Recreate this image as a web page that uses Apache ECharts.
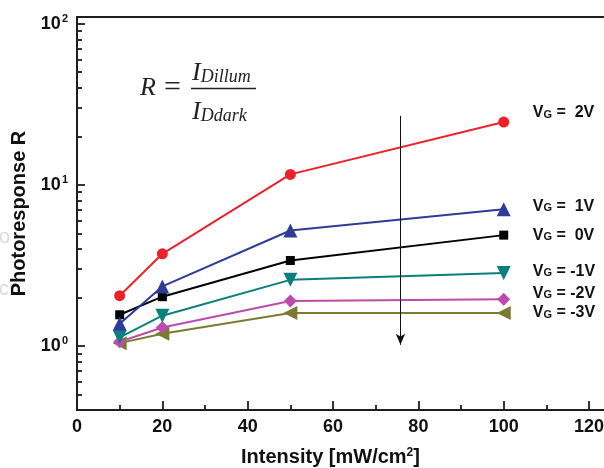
<!DOCTYPE html>
<html>
<head>
<meta charset="utf-8">
<script src="https://cdn.jsdelivr.net/npm/echarts@6/dist/echarts.min.js"></script>
<style>
  html, body { margin: 0; padding: 0; background: #fff; }
  #chart { width: 604px; height: 468px; }
</style>
</head>
<body>
<div id="chart"></div>
<script>
// 数据：光强与各栅压下的光响应
const intensity = [10, 20, 50, 100];
const r2V = [2.05, 3.73, 11.6, 24.5];
const r1V = [1.37, 2.34, 5.2, 7.05];
const r0V = [1.56, 2.02, 3.39, 4.87];
const rm1V = [1.13, 1.54, 2.57, 2.83];
const rm2V = [1.06, 1.30, 1.90, 1.95];
const rm3V = [1.04, 1.19, 1.60, 1.60];
const seriesNames = ["2V", "1V", "0V", "-1V", "-2V", "-3V"];
const xTicks = [0, 20, 40, 60, 80, 100, 120];
const xMinor = [10, 30, 50, 70, 90, 110];
const yMajor = [1, 10, 100];
const yMinor = [0.5, 0.6, 0.7, 0.8, 0.9, 2, 3, 4, 5, 6, 7, 8, 9, 20, 30, 40, 50, 60, 70, 80, 90];

const FONT = '"Liberation Sans", Arial, sans-serif';
const SERIF = '"Liberation Serif", "Times New Roman", serif';
const AX = "#1e1e1e";
const Y_MIN = 0.4, Y_MAX = 110, X_MAX = 123.5;

var myChart = echarts.init(document.getElementById("chart"));

function pts(vals) {
  return intensity.map(function (x, i) { return [x, vals[i]]; });
}

const labelRich = {
  v: { fontFamily: FONT, fontWeight: "bold", fontSize: 16, color: "#111" },
  g: { fontFamily: FONT, fontWeight: "bold", fontSize: 11, color: "#111", verticalAlign: "bottom", padding: [0, 0, 1, 0] },
  t: { fontFamily: FONT, fontWeight: "bold", fontSize: 16, color: "#111" },
};

function makeSeries(name, vals, color, symbol, size, rotate, dy) {
  return {
    name: name,
    type: "line",
    data: pts(vals),
    symbol: symbol,
    symbolSize: size,
    symbolRotate: rotate,
    showSymbol: true,
    lineStyle: { color: color, width: 2 },
    itemStyle: { color: color },
    endLabel: {
      show: true,
      distance: 0,
      offset: [29, dy],
      formatter: "{v|V}{g|G}{t| = " + (name.charAt(0) === "-" ? "" : " ") + name + "}",
      rich: labelRich,
    },
    z: 3,
  };
}

var series = [
  makeSeries(seriesNames[5], rm3V, "#7b7b30", "triangle", 14, 90, 0),
  makeSeries(seriesNames[4], rm2V, "#bb4cad", "diamond", 13, 0, -6),
  makeSeries(seriesNames[3], rm1V, "#0b7f7d", "triangle", 14, 180, -1.5),
  makeSeries(seriesNames[2], r0V, "#000000", "rect", 9, 0, 0.7),
  makeSeries(seriesNames[1], r1V, "#2e3b98", "triangle", 14, 0, -2.5),
  makeSeries(seriesNames[0], r2V, "#ee2028", "circle", 11, 0, -9),
];

// 箭头
series[5].markLine = {
  silent: true,
  symbol: ["none", "arrow"],
  symbolSize: [7, 11],
  label: { show: false },
  lineStyle: { color: "#111", width: 1, type: "solid" },
  data: [[{ coord: [75.8, 26.8] }, { coord: [75.8, 1.015] }]],
};

var option = {
  animation: false,
  grid: { left: 77, top: 17, right: 0, bottom: 58, containLabel: false, outerBoundsMode: "none" },
  xAxis: [
    {
      type: "value",
      min: 0,
      max: X_MAX,
      position: "bottom",
      name: "Intensity [mW/cm{sup|2}]",
      nameLocation: "middle",
      nameGap: 37,
      nameTextStyle: {
        fontFamily: FONT, fontWeight: "bold", fontSize: 20, color: "#111",
        padding: [0, 20, 0, 0],
        rich: {
          sup: { fontFamily: FONT, fontWeight: "bold", fontSize: 12, color: "#111", verticalAlign: "top", padding: [0, 0, 8, 0] },
        },
      },
      axisLine: { show: true, onZero: false, lineStyle: { color: AX, width: 2 } },
      axisTick: { show: true, inside: true, length: 9, customValues: xTicks, lineStyle: { color: AX, width: 1.8 } },
      axisLabel: {
        customValues: xTicks,
        margin: 8,
        fontFamily: FONT, fontWeight: "bold", fontSize: 18, color: "#111",
      },
      splitLine: { show: false },
    },
    {
      type: "value",
      min: 0,
      max: X_MAX,
      position: "top",
      axisLine: { show: true, onZero: false, lineStyle: { color: AX, width: 2 } },
      axisTick: { show: false },
      axisLabel: { show: false },
      splitLine: { show: false },
    },
    {
      type: "value",
      min: 0,
      max: X_MAX,
      position: "bottom",
      axisLine: { show: false, onZero: false },
      axisTick: { show: true, inside: true, length: 5, customValues: xMinor, lineStyle: { color: AX, width: 1.8 } },
      axisLabel: { show: false },
      splitLine: { show: false },
    },
  ],
  yAxis: [
    {
      type: "log",
      logBase: 10,
      min: Y_MIN,
      max: Y_MAX,
      position: "left",
      name: "Photoresponse R",
      nameLocation: "middle",
      nameGap: 45,
      nameTextStyle: { fontFamily: FONT, fontWeight: "bold", fontSize: 20, color: "#111" },
      axisLine: { show: true, onZero: false, lineStyle: { color: AX, width: 2 } },
      axisTick: { show: true, inside: true, length: 8, customValues: yMajor, lineStyle: { color: AX, width: 1.8 } },
      axisLabel: {
        customValues: yMajor,
        margin: 9,
        formatter: function (v) {
          return "{b|10}{s|" + Math.round(Math.log10(v)) + "}";
        },
        rich: {
          b: { fontFamily: FONT, fontWeight: "bold", fontSize: 18, color: "#111", verticalAlign: "middle" },
          s: { fontFamily: FONT, fontWeight: "bold", fontSize: 11, color: "#111", padding: [0, 0, 10, 1] },
        },
      },
      splitLine: { show: false },
    },
    {
      type: "log",
      logBase: 10,
      min: Y_MIN,
      max: Y_MAX,
      position: "left",
      axisLine: { show: false, onZero: false },
      axisTick: { show: true, inside: true, length: 5, customValues: yMinor, lineStyle: { color: AX, width: 1.8 } },
      axisLabel: { show: false },
      splitLine: { show: false },
    },
  ],
  graphic: [
    { type: "text", x: 140, y: 88, style: { text: "R", font: "italic 26px " + SERIF, fill: "#222", align: "left", verticalAlign: "middle", textAlign: "left", textVerticalAlign: "middle" } },
    { type: "text", x: 164, y: 88, style: { text: "=", font: "30px " + SERIF, fill: "#222", align: "left", verticalAlign: "middle", textAlign: "left", textVerticalAlign: "middle" } },
    { type: "line", shape: { x1: 191, y1: 88.5, x2: 256, y2: 88.5 }, style: { stroke: "#222", lineWidth: 1.3 } },
    {
      type: "text", x: 192, y: 73,
      style: {
        text: "{i|I}{s|Dillum}", align: "left", verticalAlign: "middle", textAlign: "left", textVerticalAlign: "middle",
        rich: {
          i: { font: "italic 26px " + SERIF, fill: "#222", verticalAlign: "bottom" },
          s: { font: "italic 18px " + SERIF, fill: "#222", verticalAlign: "bottom" },
        },
      },
    },
    {
      type: "text", x: 192, y: 112,
      style: {
        text: "{i|I}{s|Ddark}", align: "left", verticalAlign: "middle", textAlign: "left", textVerticalAlign: "middle",
        rich: {
          i: { font: "italic 26px " + SERIF, fill: "#222", verticalAlign: "bottom" },
          s: { font: "italic 18px " + SERIF, fill: "#222", verticalAlign: "bottom" },
        },
      },
    },
    { type: "text", x: -1, y: 237, style: { text: "o", font: "20px " + FONT, fill: "#dcdcdc", verticalAlign: "middle", textVerticalAlign: "middle" } },
    { type: "text", x: -1, y: 289, style: { text: "ci", font: "20px " + FONT, fill: "#dcdcdc", verticalAlign: "middle", textVerticalAlign: "middle" } },
  ],
  series: series,
};

myChart.setOption(option);
</script>
</body>
</html>
